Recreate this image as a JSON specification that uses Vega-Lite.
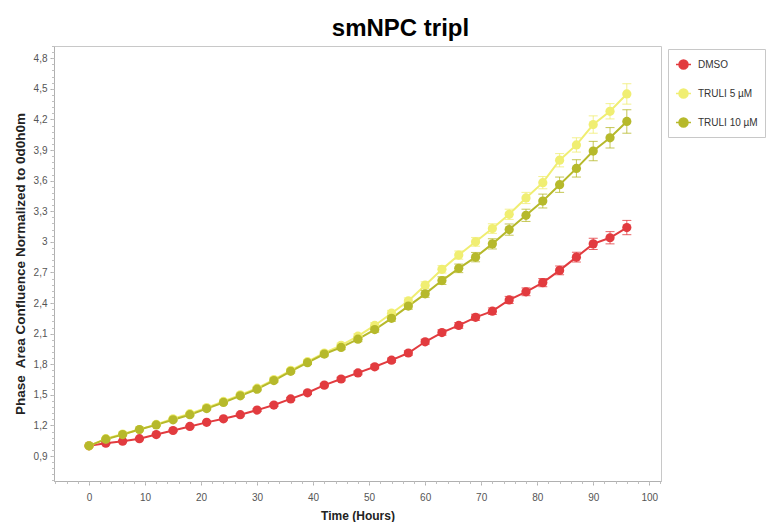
{
  "$schema": "https://vega.github.io/schema/vega-lite/v6.json",
  "width": 607,
  "height": 435,
  "autosize": {"type": "none"},
  "padding": {"left": 54, "top": 46, "right": 110, "bottom": 41},
  "background": "white",
  "title": {"text": "smNPC tripl", "font": "Liberation Sans", "fontSize": 24, "fontWeight": "bold", "color": "#000000", "anchor": "middle", "frame": "group", "dx": 43, "offset": 5},
  "config": {
    "view": {"stroke": "#c8c8c8", "strokeWidth": 1},
    "axis": {"labelFont": "Liberation Sans", "titleFont": "Liberation Sans", "labelFontSize": 10, "labelColor": "#555555", "titleFontSize": 12, "titleFontWeight": "bold", "titleColor": "#222222", "domainColor": "#b0b0b0", "tickColor": "#b0b0b0", "grid": false},
    "legend": {"labelFont": "Liberation Sans"}
  },
  "data": {"values": [
    {"t": 0, "g": "DMSO", "v": 1.0, "e": 0},
    {"t": 3, "g": "DMSO", "v": 1.025, "e": 0.005},
    {"t": 6, "g": "DMSO", "v": 1.045, "e": 0.006},
    {"t": 9, "g": "DMSO", "v": 1.07, "e": 0.007},
    {"t": 12, "g": "DMSO", "v": 1.11, "e": 0.008},
    {"t": 15, "g": "DMSO", "v": 1.15, "e": 0.009},
    {"t": 18, "g": "DMSO", "v": 1.19, "e": 0.01},
    {"t": 21, "g": "DMSO", "v": 1.23, "e": 0.01},
    {"t": 24, "g": "DMSO", "v": 1.265, "e": 0.011},
    {"t": 27, "g": "DMSO", "v": 1.305, "e": 0.012},
    {"t": 30, "g": "DMSO", "v": 1.35, "e": 0.013},
    {"t": 33, "g": "DMSO", "v": 1.4, "e": 0.014},
    {"t": 36, "g": "DMSO", "v": 1.46, "e": 0.015},
    {"t": 39, "g": "DMSO", "v": 1.52, "e": 0.016},
    {"t": 42, "g": "DMSO", "v": 1.595, "e": 0.017},
    {"t": 45, "g": "DMSO", "v": 1.655, "e": 0.018},
    {"t": 48, "g": "DMSO", "v": 1.715, "e": 0.019},
    {"t": 51, "g": "DMSO", "v": 1.775, "e": 0.02},
    {"t": 54, "g": "DMSO", "v": 1.84, "e": 0.021},
    {"t": 57, "g": "DMSO", "v": 1.91, "e": 0.022},
    {"t": 60, "g": "DMSO", "v": 2.02, "e": 0.024},
    {"t": 63, "g": "DMSO", "v": 2.11, "e": 0.026},
    {"t": 66, "g": "DMSO", "v": 2.18, "e": 0.028},
    {"t": 69, "g": "DMSO", "v": 2.26, "e": 0.03},
    {"t": 72, "g": "DMSO", "v": 2.32, "e": 0.032},
    {"t": 75, "g": "DMSO", "v": 2.43, "e": 0.035},
    {"t": 78, "g": "DMSO", "v": 2.51, "e": 0.038},
    {"t": 81, "g": "DMSO", "v": 2.6, "e": 0.04},
    {"t": 84, "g": "DMSO", "v": 2.72, "e": 0.043},
    {"t": 87, "g": "DMSO", "v": 2.85, "e": 0.048},
    {"t": 90, "g": "DMSO", "v": 2.98, "e": 0.055},
    {"t": 93, "g": "DMSO", "v": 3.04, "e": 0.06},
    {"t": 96, "g": "DMSO", "v": 3.14, "e": 0.07},
    {"t": 0, "g": "TRULI 5 µM", "v": 1.0, "e": 0},
    {"t": 3, "g": "TRULI 5 µM", "v": 1.07, "e": 0.006},
    {"t": 6, "g": "TRULI 5 µM", "v": 1.115, "e": 0.007},
    {"t": 9, "g": "TRULI 5 µM", "v": 1.16, "e": 0.008},
    {"t": 12, "g": "TRULI 5 µM", "v": 1.21, "e": 0.009},
    {"t": 15, "g": "TRULI 5 µM", "v": 1.265, "e": 0.01},
    {"t": 18, "g": "TRULI 5 µM", "v": 1.315, "e": 0.011},
    {"t": 21, "g": "TRULI 5 µM", "v": 1.375, "e": 0.012},
    {"t": 24, "g": "TRULI 5 µM", "v": 1.435, "e": 0.013},
    {"t": 27, "g": "TRULI 5 µM", "v": 1.5, "e": 0.014},
    {"t": 30, "g": "TRULI 5 µM", "v": 1.565, "e": 0.015},
    {"t": 33, "g": "TRULI 5 µM", "v": 1.65, "e": 0.016},
    {"t": 36, "g": "TRULI 5 µM", "v": 1.74, "e": 0.017},
    {"t": 39, "g": "TRULI 5 µM", "v": 1.825, "e": 0.018},
    {"t": 42, "g": "TRULI 5 µM", "v": 1.91, "e": 0.02},
    {"t": 45, "g": "TRULI 5 µM", "v": 1.985, "e": 0.022},
    {"t": 48, "g": "TRULI 5 µM", "v": 2.075, "e": 0.024},
    {"t": 51, "g": "TRULI 5 µM", "v": 2.18, "e": 0.026},
    {"t": 54, "g": "TRULI 5 µM", "v": 2.3, "e": 0.028},
    {"t": 57, "g": "TRULI 5 µM", "v": 2.42, "e": 0.03},
    {"t": 60, "g": "TRULI 5 µM", "v": 2.575, "e": 0.033},
    {"t": 63, "g": "TRULI 5 µM", "v": 2.73, "e": 0.036},
    {"t": 66, "g": "TRULI 5 µM", "v": 2.87, "e": 0.04},
    {"t": 69, "g": "TRULI 5 µM", "v": 3.0, "e": 0.043},
    {"t": 72, "g": "TRULI 5 µM", "v": 3.13, "e": 0.047},
    {"t": 75, "g": "TRULI 5 µM", "v": 3.27, "e": 0.05},
    {"t": 78, "g": "TRULI 5 µM", "v": 3.43, "e": 0.055},
    {"t": 81, "g": "TRULI 5 µM", "v": 3.58, "e": 0.06},
    {"t": 84, "g": "TRULI 5 µM", "v": 3.8, "e": 0.065},
    {"t": 87, "g": "TRULI 5 µM", "v": 3.95, "e": 0.07},
    {"t": 90, "g": "TRULI 5 µM", "v": 4.15, "e": 0.085},
    {"t": 93, "g": "TRULI 5 µM", "v": 4.28, "e": 0.075},
    {"t": 96, "g": "TRULI 5 µM", "v": 4.45, "e": 0.1},
    {"t": 0, "g": "TRULI 10 µM", "v": 1.0, "e": 0},
    {"t": 3, "g": "TRULI 10 µM", "v": 1.065, "e": 0.006},
    {"t": 6, "g": "TRULI 10 µM", "v": 1.11, "e": 0.007},
    {"t": 9, "g": "TRULI 10 µM", "v": 1.16, "e": 0.008},
    {"t": 12, "g": "TRULI 10 µM", "v": 1.205, "e": 0.009},
    {"t": 15, "g": "TRULI 10 µM", "v": 1.255, "e": 0.01},
    {"t": 18, "g": "TRULI 10 µM", "v": 1.305, "e": 0.011},
    {"t": 21, "g": "TRULI 10 µM", "v": 1.365, "e": 0.012},
    {"t": 24, "g": "TRULI 10 µM", "v": 1.425, "e": 0.013},
    {"t": 27, "g": "TRULI 10 µM", "v": 1.49, "e": 0.014},
    {"t": 30, "g": "TRULI 10 µM", "v": 1.555, "e": 0.015},
    {"t": 33, "g": "TRULI 10 µM", "v": 1.64, "e": 0.016},
    {"t": 36, "g": "TRULI 10 µM", "v": 1.73, "e": 0.017},
    {"t": 39, "g": "TRULI 10 µM", "v": 1.815, "e": 0.018},
    {"t": 42, "g": "TRULI 10 µM", "v": 1.9, "e": 0.02},
    {"t": 45, "g": "TRULI 10 µM", "v": 1.965, "e": 0.022},
    {"t": 48, "g": "TRULI 10 µM", "v": 2.045, "e": 0.024},
    {"t": 51, "g": "TRULI 10 µM", "v": 2.14, "e": 0.026},
    {"t": 54, "g": "TRULI 10 µM", "v": 2.25, "e": 0.028},
    {"t": 57, "g": "TRULI 10 µM", "v": 2.37, "e": 0.03},
    {"t": 60, "g": "TRULI 10 µM", "v": 2.49, "e": 0.034},
    {"t": 63, "g": "TRULI 10 µM", "v": 2.62, "e": 0.038},
    {"t": 66, "g": "TRULI 10 µM", "v": 2.74, "e": 0.042},
    {"t": 69, "g": "TRULI 10 µM", "v": 2.85, "e": 0.046},
    {"t": 72, "g": "TRULI 10 µM", "v": 2.98, "e": 0.05},
    {"t": 75, "g": "TRULI 10 µM", "v": 3.12, "e": 0.055},
    {"t": 78, "g": "TRULI 10 µM", "v": 3.26, "e": 0.06},
    {"t": 81, "g": "TRULI 10 µM", "v": 3.4, "e": 0.068},
    {"t": 84, "g": "TRULI 10 µM", "v": 3.56, "e": 0.075},
    {"t": 87, "g": "TRULI 10 µM", "v": 3.72, "e": 0.085},
    {"t": 90, "g": "TRULI 10 µM", "v": 3.89, "e": 0.095},
    {"t": 93, "g": "TRULI 10 µM", "v": 4.02, "e": 0.1},
    {"t": 96, "g": "TRULI 10 µM", "v": 4.18, "e": 0.115}
  ]},
  "encoding": {
    "color": {
      "field": "g", "type": "nominal",
      "scale": {"domain": ["DMSO", "TRULI 5 µM", "TRULI 10 µM"], "range": ["#e23b3f", "#f0ee72", "#b6b92b"]},
      "legend": {
        "title": null, "orient": "none", "legendX": 614, "legendY": 3,
        "strokeColor": "#c8c8c8", "padding": 7, "fillColor": "white",
        "symbolType": "M-1,0L1,0M0.6,0A0.6,0.6,0,1,1,-0.6,0A0.6,0.6,0,1,1,0.6,0Z",
        "symbolSize": 225, "symbolStrokeWidth": 1.5, "symbolOpacity": 1,
        "labelFontSize": 10, "labelColor": "#333333", "labelOffset": 6, "rowPadding": 13, "labelLimit": 200,
        "encode": {"symbols": {"update": {"fill": {"scale": "color", "field": "value"}, "stroke": {"scale": "color", "field": "value"}, "strokeWidth": {"value": 1.5}, "opacity": {"value": 1}}}}
      }
    }
  },
  "layer": [
    {
      "mark": {"type": "line", "strokeWidth": 2},
      "encoding": {
        "x": {"field": "t", "type": "quantitative", "scale": {"domain": [-6.25, 102.1], "nice": false, "zero": false},
              "axis": {"values": [0, 10, 20, 30, 40, 50, 60, 70, 80, 90, 100], "title": "Time (Hours)", "tickSize": 4, "labelPadding": 7, "titlePadding": 8}},
        "y": {"field": "v", "type": "quantitative", "scale": {"domain": [0.655, 4.92], "nice": false, "zero": false},
              "axis": {"values": [0.9, 1.2, 1.5, 1.8, 2.1, 2.4, 2.7, 3.0, 3.3, 3.6, 3.9, 4.2, 4.5, 4.8], "labelExpr": "replace(format(datum.value, '.2~f'), '.', ',')", "title": "Phase\u00a0 Area Confluence Normalized to 0d0h0m", "titleFontSize": 13.5, "tickSize": 4, "labelPadding": 3, "titlePadding": 6}}
      }
    },
    {
      "mark": {"type": "errorbar", "ticks": {"size": 9, "thickness": 1}, "thickness": 1, "opacity": 0.8},
      "encoding": {
        "x": {"field": "t", "type": "quantitative", "axis": null},
        "y": {"field": "v", "type": "quantitative", "axis": null},
        "yError": {"field": "e"}
      }
    },
    {
      "mark": {"type": "point", "filled": true, "size": 85, "opacity": 1},
      "encoding": {
        "x": {"field": "t", "type": "quantitative",
              "axis": {"orient": "bottom", "values": [-6, -4, -2, 0, 2, 4, 6, 8, 10, 12, 14, 16, 18, 20, 22, 24, 26, 28, 30, 32, 34, 36, 38, 40, 42, 44, 46, 48, 50, 52, 54, 56, 58, 60, 62, 64, 66, 68, 70, 72, 74, 76, 78, 80, 82, 84, 86, 88, 90, 92, 94, 96, 98, 100, 102], "labels": false, "domain": false, "title": null, "tickSize": 2.5, "tickColor": "#c0c0c0"}},
        "y": {"field": "v", "type": "quantitative",
              "axis": {"orient": "left", "values": [0.66, 0.72, 0.78, 0.84, 0.9, 0.96, 1.02, 1.08, 1.14, 1.2, 1.26, 1.32, 1.38, 1.44, 1.5, 1.56, 1.62, 1.68, 1.74, 1.8, 1.86, 1.92, 1.98, 2.04, 2.1, 2.16, 2.22, 2.28, 2.34, 2.4, 2.46, 2.52, 2.58, 2.64, 2.7, 2.76, 2.82, 2.88, 2.94, 3.0, 3.06, 3.12, 3.18, 3.24, 3.3, 3.36, 3.42, 3.48, 3.54, 3.6, 3.66, 3.72, 3.78, 3.84, 3.9, 3.96, 4.02, 4.08, 4.14, 4.2, 4.26, 4.32, 4.38, 4.44, 4.5, 4.56, 4.62, 4.68, 4.74, 4.8, 4.86, 4.92], "labels": false, "domain": false, "title": null, "tickSize": 2.5, "tickColor": "#c0c0c0"}}
      }
    }
  ],
  "resolve": {"axis": {"x": "independent", "y": "independent"}}
}
